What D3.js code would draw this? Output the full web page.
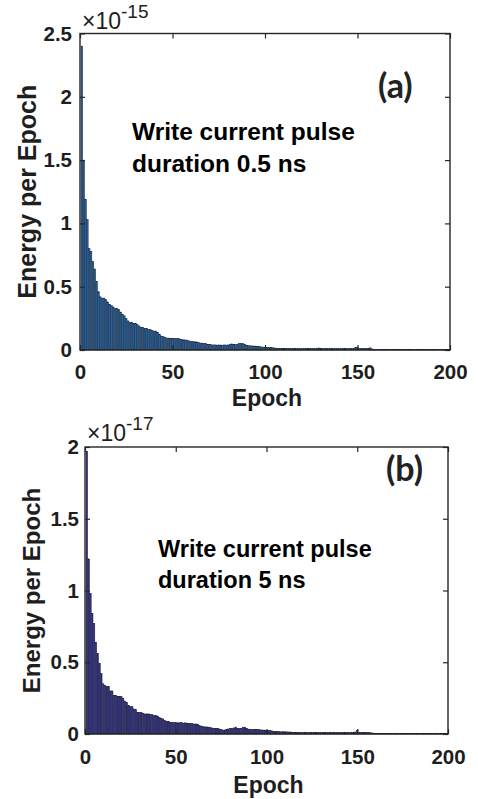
<!DOCTYPE html>
<html><head><meta charset="utf-8">
<script src="https://cdn.jsdelivr.net/npm/d3@7/dist/d3.min.js"></script>
<style>body{margin:0;background:#fff} svg{display:block}</style>
</head><body><svg id="c" width="478" height="799"></svg>
<script>
// Epoch numbers
const epochs = d3.range(1, 201);
// Panel (a): energy per epoch, units of 1e-15
const energyA = [
 2.40,1.50,1.19,1.03,0.80,0.78,0.70,0.64,0.54,0.46,
 0.42,0.41,0.41,0.40,0.38,0.36,0.35,0.34,0.33,0.33,
 0.32,0.30,0.28,0.27,0.25,0.23,0.22,0.22,0.21,0.21,
 0.20,0.19,0.18,0.18,0.17,0.17,0.16,0.16,0.155,0.15,
 0.15,0.14,0.125,0.11,0.105,0.10,0.095,0.094,0.093,0.092,
 0.091,0.090,0.090,0.088,0.082,0.080,0.079,0.078,0.072,0.068,
 0.066,0.065,0.064,0.058,0.055,0.054,0.053,0.050,0.045,0.042,
 0.041,0.040,0.040,0.039,0.040,0.039,0.038,0.040,0.039,0.040,
 0.042,0.048,0.044,0.042,0.045,0.050,0.052,0.050,0.046,0.038,
 0.034,0.033,0.032,0.032,0.031,0.030,0.028,0.024,0.023,0.022,
 0.021,0.021,0.020,0.018,0.016,0.015,0.014,0.014,0.013,0.013,
 0.013,0.013,0.012,0.012,0.012,0.012,0.011,0.011,0.010,0.010,
 0.011,0.010,0.011,0.012,0.011,0.010,0.011,0.012,0.016,0.012,
 0.011,0.012,0.011,0.010,0.011,0.010,0.010,0.011,0.010,0.010,
 0.010,0.011,0.010,0.010,0.010,0.011,0.012,0.014,0.022,0.018,
 0.012,0.011,0.010,0.011,0.012,0.013,0.017,0.008,0.006,0.005,
 0.005,0.006,0.005,0.005,0.006,0.005,0.005,0.005,0.006,0.005,
 0.005,0.005,0.004,0.005,0.005,0.004,0.005,0.004,0.005,0.004,
 0.004,0.004,0.005,0.004,0.004,0.004,0.004,0.005,0.004,0.004,
 0.004,0.004,0.004,0.003,0.004,0.004,0.003,0.004,0.003,0.004
];
// Panel (b): energy per epoch, units of 1e-17
const energyB = [
 1.97,1.22,0.98,0.84,0.77,0.64,0.56,0.49,0.42,0.35,
 0.34,0.33,0.33,0.30,0.30,0.27,0.27,0.26,0.26,0.26,
 0.25,0.23,0.22,0.20,0.19,0.19,0.175,0.17,0.15,0.15,
 0.15,0.145,0.14,0.14,0.14,0.135,0.135,0.13,0.13,0.125,
 0.115,0.11,0.105,0.095,0.088,0.086,0.082,0.080,0.079,0.079,
 0.078,0.078,0.079,0.077,0.078,0.076,0.075,0.074,0.072,0.070,
 0.070,0.069,0.060,0.055,0.052,0.050,0.049,0.048,0.045,0.042,
 0.040,0.039,0.038,0.035,0.030,0.028,0.028,0.030,0.035,0.038,
 0.040,0.042,0.048,0.040,0.038,0.040,0.045,0.048,0.040,0.034,
 0.033,0.032,0.033,0.032,0.031,0.030,0.028,0.028,0.027,0.026,
 0.025,0.024,0.022,0.018,0.017,0.016,0.016,0.015,0.016,0.015,
 0.015,0.014,0.014,0.013,0.012,0.011,0.011,0.011,0.010,0.010,
 0.010,0.010,0.009,0.010,0.010,0.009,0.010,0.009,0.009,0.010,
 0.009,0.010,0.009,0.009,0.010,0.009,0.009,0.010,0.009,0.009,
 0.009,0.010,0.009,0.009,0.010,0.010,0.011,0.012,0.014,0.025,
 0.012,0.010,0.010,0.009,0.010,0.009,0.009,0.008,0.006,0.005,
 0.005,0.004,0.005,0.004,0.005,0.004,0.004,0.005,0.004,0.004,
 0.004,0.005,0.004,0.004,0.004,0.005,0.004,0.004,0.004,0.004,
 0.004,0.004,0.004,0.005,0.004,0.004,0.004,0.004,0.004,0.004,
 0.004,0.004,0.003,0.004,0.004,0.004,0.003,0.004,0.004,0.003
];
const xTicks = [0, 50, 100, 150, 200];
const yTicksA = [0, 0.5, 1, 1.5, 2, 2.5];
const yTicksB = [0, 0.5, 1, 1.5, 2];
const xLabel = "Epoch";
const yLabel = "Energy per Epoch";
const annotLines = {
  a: ["Write current pulse", "duration 0.5 ns"],
  b: ["Write current pulse", "duration 5 ns"]
};

const svg = d3.select("#c");
const FONT = "Arial, 'Liberation Sans', sans-serif";

function panel(o) {
  const g = svg.append("g");
  const x = d3.scaleLinear().domain([0, 200]).range([o.L, o.R]);
  const y = d3.scaleLinear().domain([0, o.ymax]).range([o.B, o.T]);
  const bw = (x(0.8) - x(0));
  // bars
  g.append("g").selectAll("rect").data(o.data).join("rect")
    .attr("x", (d, i) => x(epochs[i]) - bw / 2)
    .attr("y", d => y(d))
    .attr("width", bw)
    .attr("height", d => o.B - y(d))
    .attr("fill", o.fill)
    .attr("stroke", o.edge)
    .attr("stroke-width", 0.5);
  // axes (ticks inward on all four sides)
  const tl = 5;
  const axB = g.append("g").attr("transform", `translate(0,${o.B})`)
    .call(d3.axisBottom(x).tickValues(xTicks).tickSize(-tl).tickPadding(tl + o.xpad).tickFormat(d3.format("d")));
  const axT = g.append("g").attr("transform", `translate(0,${o.T})`)
    .call(d3.axisTop(x).tickValues(xTicks).tickSize(-tl).tickFormat(""));
  const axL = g.append("g").attr("transform", `translate(${o.L},0)`)
    .call(d3.axisLeft(y).tickValues(o.yticks).tickSize(-tl).tickPadding(tl + o.ypad).tickFormat(d3.format("~g")));
  const axR = g.append("g").attr("transform", `translate(${o.R},0)`)
    .call(d3.axisRight(y).tickValues(o.yticks).tickSize(-tl).tickFormat(""));
  [axB, axT, axL, axR].forEach(a => {
    a.select(".domain").remove();
    a.selectAll(".tick line").attr("stroke", "#262626").attr("stroke-width", 1.2);
    a.selectAll("text").attr("font-family", FONT).attr("font-weight", "bold")
      .attr("font-size", 20.5).attr("fill", "#1e1e1e");
  });
  // box
  g.append("rect").attr("x", o.L).attr("y", o.T).attr("width", o.R - o.L).attr("height", o.B - o.T)
    .attr("fill", "none").attr("stroke", "#262626").attr("stroke-width", 1.4);
  // labels
  g.append("text").attr("x", (o.L + o.R) / 2 + 2).attr("y", o.xlabY).attr("text-anchor", "middle")
    .attr("font-family", FONT).attr("font-weight", "bold").attr("font-size", 23).attr("fill", "#1e1e1e")
    .text(xLabel);
  g.append("text").attr("transform", `translate(${o.ylabX},${(o.T + o.B) / 2}) rotate(-90)`)
    .attr("text-anchor", "middle")
    .attr("font-family", FONT).attr("font-weight", "bold").attr("font-size", o.ylabSize).attr("fill", "#1e1e1e")
    .text(yLabel);
  // exponent
  const ex = g.append("text").attr("x", o.L + 2).attr("y", o.expY)
    .attr("font-family", FONT).attr("font-size", 23).attr("fill", "#1e1e1e");
  ex.append("tspan").text("\u00D710");
  ex.append("tspan").attr("dy", -11).attr("font-size", 19).text(o.exp);
  // panel tag
  g.append("text").attr("x", o.tagX).attr("y", o.tagY)
    .attr("font-family", "Lato, 'Open Sans', sans-serif").attr("font-weight", "bold").attr("font-size", 34)
    .attr("fill", "#222").text(o.tag);
  // annotation
  const an = g.append("text").attr("font-family", FONT).attr("font-weight", "bold")
    .attr("font-size", o.annSize).attr("fill", "#000");
  o.ann.forEach((s, i) => an.append("tspan").attr("x", o.annX).attr("y", o.annY + i * o.annDy).text(s));
}

panel({L: 80, R: 450, T: 33.5, B: 350, ymax: 2.5, yticks: yTicksA, ypad: 3, xpad: 9, data: energyA,
  fill: "#2565a8", edge: "#0d1a2b", xlabY: 406, ylabX: 36, ylabSize: 25, expY: 29, exp: "-15",
  tag: "(a)", tagX: 378, tagY: 98, ann: annotLines.a, annX: 132, annY: 140, annDy: 32, annSize: 24.5});
panel({L: 85, R: 448, T: 447, B: 734, ymax: 2, yticks: yTicksB, ypad: 1, xpad: 10, data: energyB,
  fill: "#33338f", edge: "#10102a", xlabY: 793, ylabX: 40, ylabSize: 24, expY: 441, exp: "-17",
  tag: "(b)", tagX: 386, tagY: 481, ann: annotLines.b, annX: 158, annY: 557, annDy: 31, annSize: 23.5});
</script>
</body></html>
